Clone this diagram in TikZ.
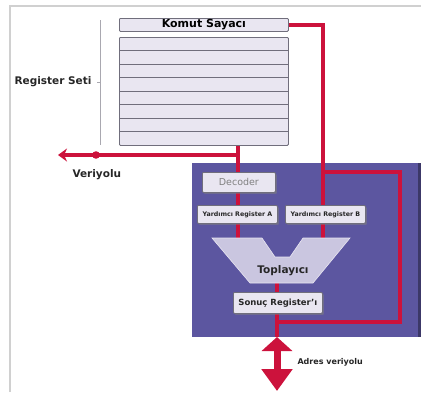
\documentclass[tikz,border=0pt]{standalone}
\usepackage{fontspec}
\setmainfont{DejaVu Sans}
\usetikzlibrary{arrows.meta,shadows,backgrounds}

\definecolor{morArka}{RGB}{92,86,160}
\definecolor{yolKirmizi}{RGB}{204,18,60}
\definecolor{kutuDolgu}{RGB}{233,230,241}
\definecolor{kutuCizgi}{RGB}{112,110,124}
\definecolor{aluDolgu}{RGB}{202,198,224}
\definecolor{cerceve}{RGB}{208,208,208}

\begin{document}
\begin{tikzpicture}[x=1pt, y=-1pt,
    kutu/.style={draw=kutuCizgi, fill=kutuDolgu, line width=0.8pt, rounded corners=1pt,
                 inner sep=0pt, anchor=north west},
    golge/.style={drop shadow={shadow xshift=1.5pt, shadow yshift=-1.5pt, opacity=0.5}},
    yol/.style={draw=yolKirmizi, line width=3.2pt},
    etiket/.style={font=\bfseries\fontsize{10.5}{12}\selectfont, text=black!85},
    kucuk/.style={font=\bfseries\fontsize{6.3}{7}\selectfont, text=black!85}]

        \useasboundingbox (0,0) rectangle (421,392);

        % --- Cadre gris (haut et gauche) ---
        \draw[cerceve, line width=2pt] (10,392) -- (10,6) -- (421,6);

        % ==============================================================
        % 1. COMPTEUR ET JEU DE REGISTRES
        % ==============================================================
        \node[kutu, minimum width=169pt, minimum height=13pt,
              font=\bfseries\fontsize{11}{12}\selectfont] (komut) at (119,18) {Komut Sayacı};
        \node[kutu, minimum width=169pt, minimum height=108pt] (regset) at (119,37) {};
        \foreach \k in {1,...,7}
            \draw[kutuCizgi, line width=0.8pt] ([yshift=-\k*13.5pt]regset.north west)
                -- ([yshift=-\k*13.5pt]regset.north east);

        % Accolade du jeu de registres
        \draw[kutuCizgi!60, thin] (100,20) -- (100,145);
        \draw[kutuCizgi!60, thin] (97,82) -- (100,82);
        \node[etiket, anchor=east] (regseti) at (95,82) {Register Seti};

        % Points du bus de données
        \coordinate (regout) at (238,145);
        \coordinate (busT)   at (238,155);
        \coordinate (busL)   at (58,155);
        \coordinate (busDot) at (96,155);
        \node[etiket, anchor=west] (veriyolu) at (69,175) {Veriyolu};

        % ==============================================================
        % 2. UNITE DE CALCUL (fond violet)
        % ==============================================================
        \node[kutu, golge, minimum width=73pt, minimum height=20pt, text=gray,
              font=\fontsize{9.5}{11}\selectfont] (decoder) at (202,172) {Decoder};
        \node[kutu, golge, kucuk, minimum width=80pt, minimum height=18pt] (yrA) at (197,205)
            {Yardımcı Register A};
        \node[kutu, golge, kucuk, minimum width=80pt, minimum height=18pt] (yrB) at (285,205)
            {Yardımcı Register B};

        % Additionneur en V
        \coordinate (A1) at (212,238);
        \coordinate (A2) at (262,238);
        \coordinate (A3) at (275,257);
        \coordinate (A4) at (290,257);
        \coordinate (A5) at (303,238);
        \coordinate (A6) at (350,238);
        \coordinate (A7) at (313,283);
        \coordinate (A8) at (250,283);
        \filldraw[fill=aluDolgu, draw=kutuDolgu, line width=0.6pt]
            (A1) -- (A2) -- (A3) -- (A4) -- (A5) -- (A6) -- (A7) -- (A8) -- cycle;
        \node[font=\bfseries\fontsize{10.5}{12}\selectfont, text=black!85] (topl) at (283,271) {Toplayıcı};
        \coordinate (aluA)  at (238,238);
        \coordinate (aluB)  at (323,238);
        \coordinate (aluS)  at (277,283);

        \node[kutu, golge, font=\bfseries\fontsize{8.5}{10}\selectfont, text=black!85,
              minimum width=89pt, minimum height=21pt] (sonuc) at (233,292) {Sonuç Register'ı};

        % Boucle de retour et bus d'adresse
        \coordinate (loopBL) at (277,322);
        \coordinate (loopBR) at (400,322);
        \coordinate (loopTR) at (400,172);
        \coordinate (loopTL) at (323,172);
        \coordinate (adrT)   at (277,337);
        \coordinate (adrB)   at (277,391);
        \node[font=\bfseries\fontsize{8}{10}\selectfont, text=black!85, anchor=west] (adres)
            at (294,362) {Adres veriyolu};

        % ==============================================================
        % 3. FOND VIOLET ET BUS ROUGES (derrière les boîtes)
        % ==============================================================
        \begin{scope}[on background layer]
            \fill[morArka] (192,163) rectangle (418,337);
            \fill[morArka!65!black] (418,163) rectangle (421,337);

            \draw[yol] (komut.east) -| (aluB);
            \draw[yol] (regout) -- (aluA);
            \draw[yol, -{Stealth[length=9pt, width=13pt]}] (busT) -- (busL);
            \fill[yolKirmizi] (busDot) circle (3.8pt);
            \draw[yol] (aluS) -- (sonuc.south -| aluS) -- (adrT);
            \draw[yol] (loopBL) -- (loopBR) -- (loopTR) -- (loopTL);
        \end{scope}

        % Double flèche du bus d'adresse
        \draw[draw=yolKirmizi, line width=7pt,
              {Triangle[length=14pt, width=30pt]}-{Triangle[length=22pt, width=30pt]}] (adrT) -- (adrB);
    \end{tikzpicture}
\end{document}
